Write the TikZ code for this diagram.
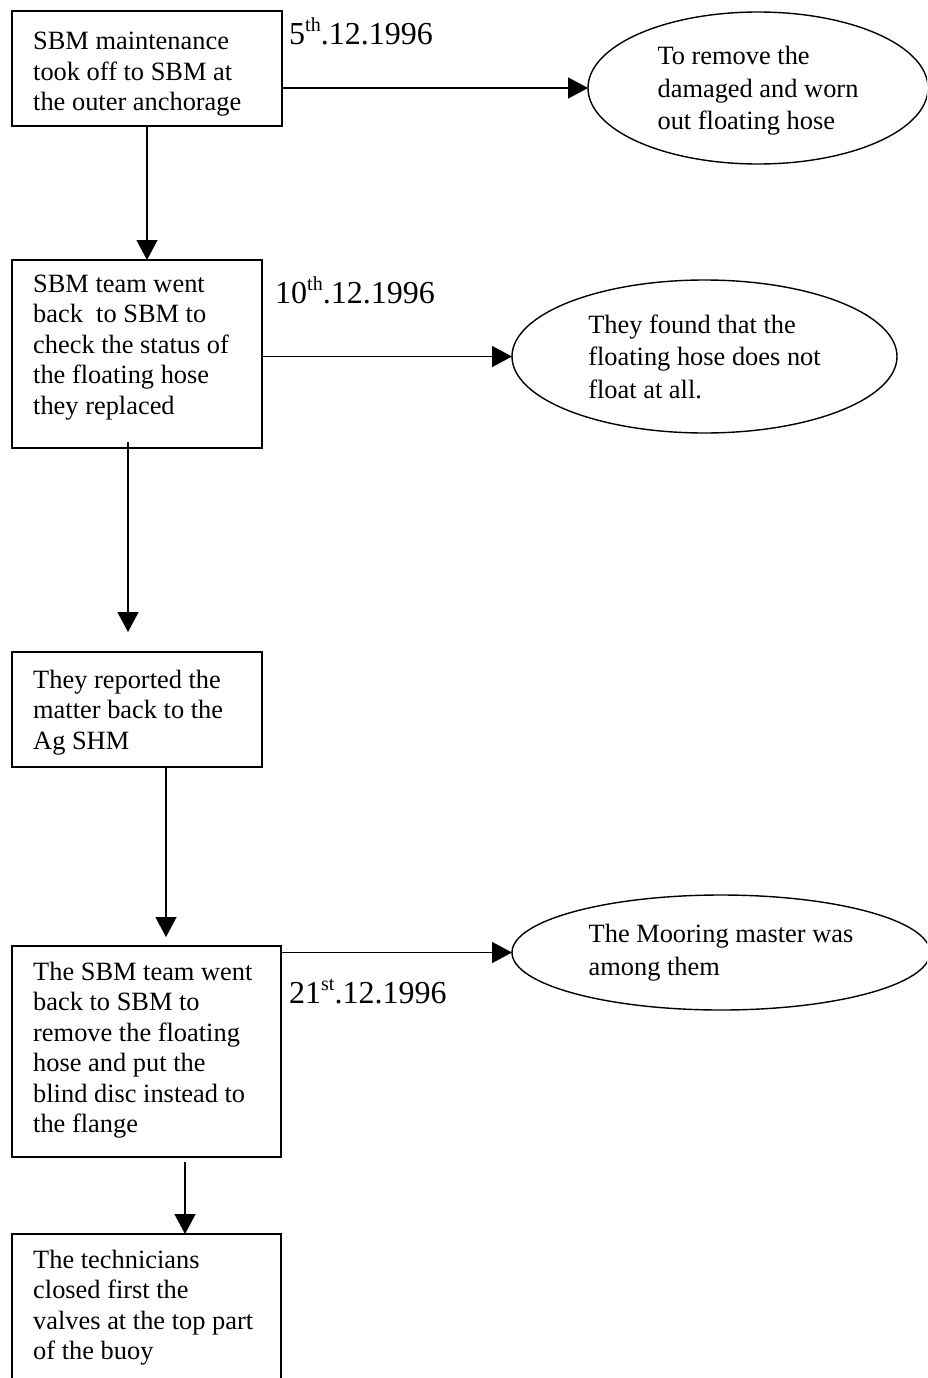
\documentclass[tikz,border=0pt]{standalone}
\usepackage{fontspec}
\setmainfont{Liberation Serif}
\usetikzlibrary{arrows.meta,shapes.geometric,calc}
% raised ordinal suffix for the dates
\newcommand\sups[1]{\raisebox{13pt}{\fontsize{20}{20}\selectfont #1}}
% fixes the height of the first line of a text block
\newcommand\firstln{\rule{0pt}{20pt}}
\begin{document}
\begin{tikzpicture}[x=1pt,y=-1pt,
  box/.style={draw, line width=1.4pt, rectangle, anchor=north west, inner sep=0pt, outer sep=0pt},
  txt/.style={anchor=north west, align=left, inner sep=0pt, font=\fontsize{26.4}{30.5}\selectfont},
  bubble/.style={draw, line width=1.4pt, ellipse, inner sep=0pt, outer sep=0pt, align=left,
                 font=\fontsize{26.4}{32.5}\selectfont},
  datelbl/.style={anchor=base west, inner sep=0pt, font=\fontsize{32}{36}\selectfont},
  arr/.style={line width=1.4pt, -{Triangle[length=20pt,width=21pt]}}]
\useasboundingbox (0,0) rectangle (927,1378);
\clip (0,0) rectangle (927,1378);

% process boxes
\node[box, minimum width=270pt, minimum height=115pt] (b1) at (12,11) {};
\node[box, minimum width=250pt, minimum height=188pt] (b2) at (12,260) {};
\node[box, minimum width=250pt, minimum height=115pt] (b3) at (12,652) {};
\node[box, minimum width=269pt, minimum height=211pt] (b4) at (12,946) {};
\node[box, minimum width=269pt, minimum height=180pt] (b5) at (12,1234) {};

% box texts
\node[txt] (t1) at (33,29.5) {\firstln SBM maintenance\\took off to SBM at\\the outer anchorage};
\node[txt] (t2) at (33,272) {\firstln SBM team went\\back\ \ to SBM to\\check the status of\\the floating hose\\they replaced};
\node[txt] (t3) at (33,668) {\firstln They reported the\\matter back to the\\Ag SHM};
\node[txt] (t4) at (33,960) {\firstln The SBM team went\\back to SBM to\\remove the floating\\hose and put the\\blind disc instead to\\the flange};
\node[txt] (t5) at (33,1248) {\firstln The technicians\\closed first the\\valves at the top part\\of the buoy};

% outcome ellipses
\node[bubble, minimum width=340pt, minimum height=152pt] (e1) at (758,88)
  {\rule{0pt}{24pt}To remove the\\damaged and worn\\out floating hose};
\node[bubble, minimum width=385pt, minimum height=153pt] (e2) at (704.5,356.5)
  {They found that the\\floating hose does not\\float at all.};
\node[bubble, minimum width=418pt, minimum height=115pt] (e3) at (721,952.5)
  {The Mooring master was\\among them};

% dates
\node[datelbl] (d1) at (289,45) {5\sups{th}.12.1996};
\node[datelbl] (d2) at (275,303) {10\sups{th}.12.1996};
\node[datelbl] (d3) at (289,1003) {21\sups{st}.12.1996};

% flow down the left column
\draw[arr] (b1.south) -- (b1.south |- b2.north);
\draw[arr] ($(b2.south)+(-9,-6)$) -- ($(b3.north)+(-9,-20)$);
\draw[arr] ($(b3.south)+(29,0)$) -- ($(b4.north)+(19.5,-9)$);
\draw[arr] ($(b4.south)+(38.5,5)$) -- ($(b5.north)+(38.5,0)$);

% links to the outcomes
\draw[arr] (b1.east |- e1.west) -- (e1.west);
\draw[arr] (b2.east |- e2.west) -- (e2.west);
\draw[arr] (b4.east |- e3.west) -- (e3.west);
\end{tikzpicture}
\end{document}
